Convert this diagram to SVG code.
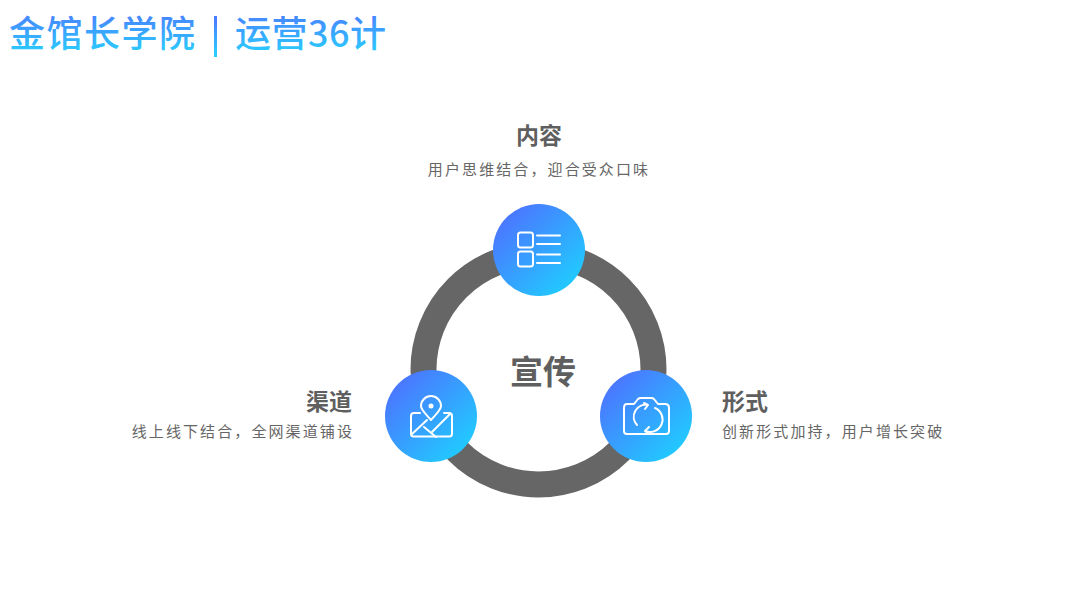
<svg xmlns="http://www.w3.org/2000/svg" width="1080" height="608" viewBox="0 0 1080 608">
<style>
text{font-family:"Noto Sans CJK SC","Noto Sans",sans-serif}
.h{font-size:23px;font-weight:700;fill:#5f5f5f}
.s{font-size:15px;fill:#666;letter-spacing:2.1px}
.t{font-size:36px;font-weight:500;fill:url(#tg)}
.i{fill:none;stroke:#fff;stroke-width:2;stroke-linecap:round;stroke-linejoin:round}
.b{fill:url(#cg)}
</style>
<defs>
<linearGradient id="tg" x1="0" y1="0" x2="0" y2="1"><stop offset="0.1" stop-color="#4a7cff"/><stop offset="0.9" stop-color="#2bcbff"/></linearGradient>
<linearGradient id="cg" x1="0.15" y1="0.15" x2="0.85" y2="0.85"><stop offset="0" stop-color="#4a78ff"/><stop offset="1" stop-color="#22c8ff"/></linearGradient>
</defs>
<g id="title">
<text class="t" x="9" y="47" letter-spacing="1.5">金馆长学院</text>
<rect x="214" y="16" width="3" height="41" fill="url(#tg)"/>
<text class="t" x="235" y="47" letter-spacing="0.5">运营36计</text>
</g>
<g id="connectors"><circle cx="538.5" cy="369.5" r="115" fill="none" stroke="#666" stroke-width="26"/></g>
<g id="center"><text x="543" y="384" text-anchor="middle" font-size="33" font-weight="700" fill="#5f5f5f">宣传</text></g>
<g id="node-content">
<text class="h" x="539" y="144" text-anchor="middle">内容</text>
<text class="s" x="539" y="175" text-anchor="middle">用户思维结合，迎合受众口味</text>
<circle class="b" cx="539" cy="250" r="46"/>
<g class="i"><rect x="518" y="232.500" width="15" height="15" rx="2.500"/><rect x="518" y="251.500" width="15" height="15" rx="2.500"/><path d="M537 235.500H560M537 244H560M537 254.500H560M537 263H560"/></g>
</g>
<g id="node-channel">
<text class="h" x="352" y="410" text-anchor="end">渠道</text>
<text class="s" x="354" y="437" text-anchor="end">线上线下结合，全网渠道铺设</text>
<circle class="b" cx="431" cy="416" r="46"/>
<g class="i"><path d="M431 420C426 414 421 410 421 406A10 10 0 0 1 441 406C441 410 436 414 431 420Z"/><circle cx="431" cy="406" r="1.500" fill="#fff"/><path d="M420 413H414Q411 413 411 416V434Q411 436.500 414 436.500H449Q452 436.500 452 434V416Q452 413 449 413H444"/><path d="M412 434L427 420M424 427L436 437M432 432L450 414"/></g>
</g>
<g id="node-form">
<text class="h" x="722" y="410">形式</text>
<text class="s" x="722" y="437">创新形式加持，用户增长突破</text>
<circle class="b" cx="646" cy="416" r="46"/>
<g class="i"><path d="M627 404H634L638 399Q639 398 641 398H651Q653 398 654 399L658 404H665Q669 404 669 408V431Q669 434 666 434H627Q624 434 624 431V408Q624 404 627 404Z"/><path d="M637 425A12 12 0 0 1 648 405M644 403L648 405L645 409M655 408A12 12 0 0 1 645 431M649 427L645 431L649 434"/></g>
</g>
</svg>
